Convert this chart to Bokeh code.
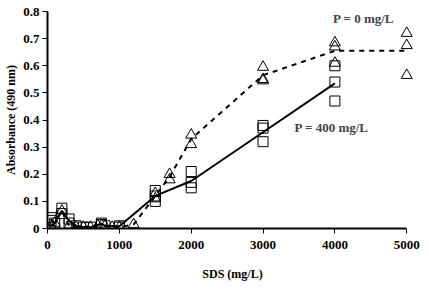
from bokeh.plotting import figure
from bokeh.models import Range1d, Label, FixedTicker
from bokeh.embed import file_html
from bokeh.resources import INLINE

# P = 0 mg/L (triangles)
tri_x = [50, 100, 200, 300, 400, 500, 600, 700, 800, 900, 1000, 1200,
         1500, 1500, 1700, 1700, 2000, 2000, 3000, 3000, 3000,
         4000, 4000, 4000, 5000, 5000, 5000]
tri_y = [0.01, 0.02, 0.065, 0.01, 0.005, 0.005, 0.005, 0.01, 0.01, 0.005, 0.005, 0.015,
         0.13, 0.11, 0.20, 0.18, 0.345, 0.31, 0.595, 0.55, 0.545,
         0.685, 0.67, 0.61, 0.72, 0.675, 0.565]

# P = 400 mg/L (squares)
sq_x = [50, 50, 100, 200, 200, 300, 300, 400, 500, 600, 750, 750, 800, 1000, 1000,
        1500, 1500, 1500, 2000, 2000, 2000, 3000, 3000, 3000, 4000, 4000, 4000]
sq_y = [0.04, 0.03, 0.02, 0.075, 0.055, 0.035, 0.02, 0.01, 0.005, 0.005, 0.015, 0.02, 0.01, 0.01, 0.005,
        0.14, 0.12, 0.10, 0.21, 0.17, 0.15, 0.38, 0.37, 0.32, 0.60, 0.54, 0.47]

# mean curves
p0_x = [50, 100, 200, 300, 400, 500, 600, 700, 800, 900, 1000, 1200, 1500, 1700, 2000, 3000, 4000, 5000]
p0_y = [0.01, 0.02, 0.065, 0.01, 0.005, 0.005, 0.005, 0.01, 0.01, 0.005, 0.005, 0.015, 0.12, 0.19, 0.33, 0.565, 0.655, 0.655]
p400_x = [50, 100, 200, 300, 400, 500, 600, 750, 800, 1000, 1500, 2000, 3000, 4000]
p400_y = [0.035, 0.02, 0.065, 0.028, 0.01, 0.005, 0.005, 0.018, 0.01, 0.008, 0.12, 0.175, 0.355, 0.535]

x_ticks = [0, 1000, 2000, 3000, 4000, 5000]
y_ticks = [0, 0.1, 0.2, 0.3, 0.4, 0.5, 0.6, 0.7, 0.8]

FONT = "Liberation Serif"

p = figure(width=425, height=290, output_backend="svg", toolbar_location=None,
           x_range=Range1d(0, 5150), y_range=Range1d(0, 0.8),
           min_border_left=47, min_border_right=8, min_border_top=11, min_border_bottom=62)
p.outline_line_color = None
p.xgrid.visible = False
p.ygrid.visible = False
p.background_fill_color = "white"

p.line(p0_x, p0_y, line_color="black", line_width=2, line_dash="5 5")
p.line(p400_x, p400_y, line_color="black", line_width=2)
p.scatter(tri_x, tri_y, marker="triangle", size=11, fill_color=None, line_color="black", line_width=1)
p.scatter(sq_x, sq_y, marker="square", size=10, fill_color=None, line_color="black", line_width=1)

for ax in (p.xaxis[0], p.yaxis[0]):
    ax.axis_line_width = 2
    ax.axis_line_color = "black"
    ax.major_tick_line_color = "black"
    ax.major_tick_line_width = 1
    ax.major_tick_out = 5
    ax.major_tick_in = 0
    ax.minor_tick_line_color = None
    ax.major_label_text_font = FONT
    ax.major_label_text_font_style = "bold"
    ax.major_label_text_font_size = "13px"
    ax.major_label_text_color = "black"
    ax.axis_label_text_font = FONT
    ax.axis_label_text_font_style = "bold"
    ax.axis_label_text_font_size = "12px"
    ax.axis_label_text_color = "black"

p.xaxis[0].bounds = (0, 5000)
p.xaxis[0].ticker = FixedTicker(ticks=x_ticks)
p.yaxis[0].ticker = FixedTicker(ticks=y_ticks)
p.yaxis[0].major_label_overrides = {0: "0"}
p.xaxis[0].major_label_standoff = 7
p.yaxis[0].major_label_standoff = 3
p.xaxis[0].axis_label = "SDS (mg/L)"
p.yaxis[0].axis_label = "Absorbance (490 nm)"
p.xaxis[0].axis_label_standoff = 15
p.yaxis[0].axis_label_standoff = 2

p.add_layout(Label(x=4400, y=0.775, text="P = 0 mg/L", text_font=FONT, text_font_style="bold",
                   text_font_size="13px", text_align="center", text_baseline="middle"))
p.add_layout(Label(x=3955, y=0.371, text="P = 400 mg/L", text_font=FONT, text_font_style="bold",
                   text_font_size="13px", text_align="center", text_baseline="middle"))

open("out.html", "w").write(file_html(p, INLINE))
